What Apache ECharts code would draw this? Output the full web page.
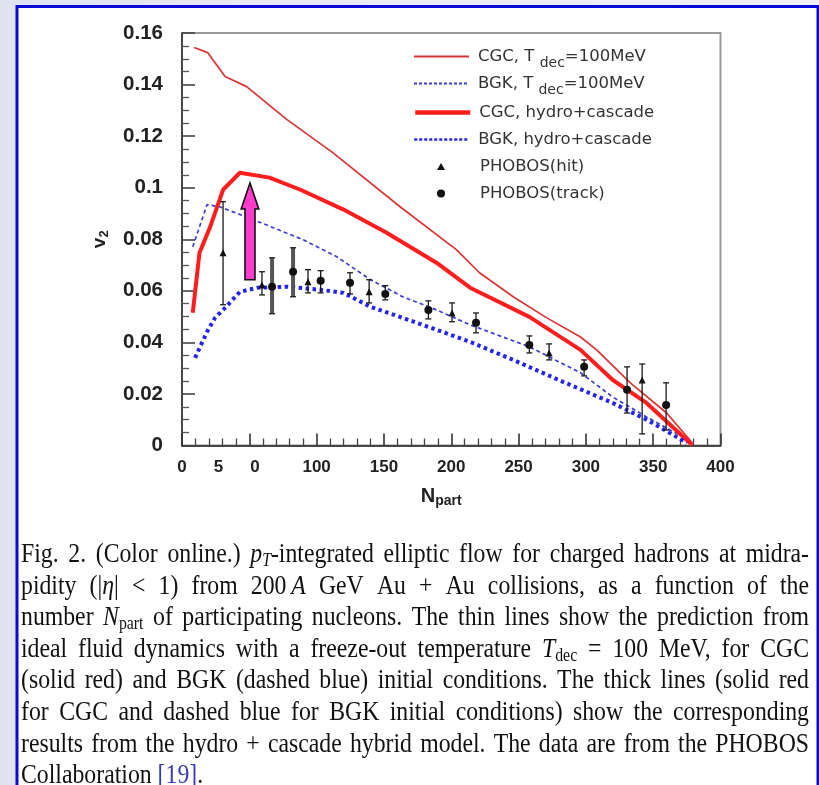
<!DOCTYPE html>
<html>
<head>
<meta charset="utf-8">
<script src="https://cdn.jsdelivr.net/npm/echarts@6/dist/echarts.min.js"></script>
<style>
  html, body { margin: 0; padding: 0; }
  body { background: linear-gradient(90deg, #dfe3f0 0%, #e9ebf4 40%, #f1f1f4 100%); }
  #c { width: 819px; height: 785px; }
</style>
</head>
<body>
<div id="c"></div>
<script>
// ---- ideal hydro curves (T_dec = 100 MeV): [N_part, v2]
const cgcIdeal = [[9,0.1544],[19,0.1524],[32,0.1431],[48,0.1392],[78,0.1264],[112,0.1136],[162,0.0926],[204,0.0759],[221,0.0670],[246,0.0577],[271,0.0495],[296,0.0421],[308,0.0371],[333,0.0243],[360,0.0126],[379,0.001]];
const bgkIdeal = [[8,0.0771],[18.6,0.0934],[28,0.0926],[53,0.0876],[90,0.0798],[115,0.0732],[140,0.0643],[164,0.0577],[189,0.0526],[214,0.0468],[258,0.0383],[296,0.0282],[320,0.0188],[345,0.0111],[380,0.001]];
// ---- hydro + cascade hybrid curves
const cgcHybrid = [[8,0.0515],[13,0.0748],[21,0.0849],[30.5,0.0992],[43,0.1058],[65,0.1039],[88,0.0992],[120,0.0915],[152,0.0825],[189,0.0709],[214,0.0612],[258,0.0499],[296,0.0371],[320,0.0254],[345,0.0165],[379,0.0002]];
const bgkHybrid = [[9.7,0.0340],[18.6,0.0441],[24.5,0.0495],[32,0.0534],[43,0.0596],[56,0.0612],[78,0.0616],[102.5,0.0604],[120,0.0592],[140,0.0538],[164,0.0495],[189,0.0449],[214,0.0402],[246,0.0332],[283,0.0247],[320,0.0165],[345.5,0.0099],[375,0.001]];

// ---- PHOBOS data
const hitN  = [30.5, 59.4, 93.6, 139, 200.6, 272.7, 341.8];
const hitV  = [0.0748, 0.0623, 0.0635, 0.0596, 0.0514, 0.0359, 0.0254];
const hitLo = [0.0546, 0.0584, 0.0592, 0.0553, 0.0480, 0.0332, 0.0045];
const hitHi = [0.0946, 0.0674, 0.0682, 0.0643, 0.0553, 0.0394, 0.0316];

const trackN  = [66.9, 82.5, 103, 124.8, 151, 183, 218.4, 258, 298.7, 330.6, 359.6];
const trackV  = [0.0616, 0.0674, 0.0639, 0.0631, 0.0588, 0.0526, 0.0476, 0.0390, 0.0305, 0.0216, 0.0157];
const trackLo = [0.0511, 0.0577, 0.0592, 0.0588, 0.0565, 0.0491, 0.0437, 0.0359, 0.0270, 0.0126, 0.0060];
const trackHi = [0.0728, 0.0767, 0.0678, 0.0670, 0.0620, 0.0561, 0.0514, 0.0425, 0.0332, 0.0305, 0.0243];
// track points whose band is drawn as a wide grey bar
const trackWideN = [66.9, 82.5];

// ---- highlight arrow: N_part position, v2 from -> v2 to
const arrowN = [50.5];
const arrowFrom = [0.0643];
const arrowTo = [0.1018];

// ---- axis ticks
const xTicks = [0, 50, 100, 150, 200, 250, 300, 350, 400];
const yTicks = [0, 0.02, 0.04, 0.06, 0.08, 0.1, 0.12, 0.14, 0.16];

// ---- series names
const names = ['CGC, Tdec=100MeV', 'BGK, Tdec=100MeV', 'CGC, hydro+cascade', 'BGK, hydro+cascade', 'PHOBOS(hit)', 'PHOBOS(track)'];

// ---- caption (rich-text markup, one entry per printed line)
const captionLines = [
  'Fig. 2. (Color online.) {i|p}{isub|T}-integrated elliptic flow for charged hadrons at midra-',
  'pidity (|{i|η}| < 1) from 200\u2009{i|A} GeV Au + Au collisions, as a function of the',
  'number {i|N}{sub|part} of participating nucleons. The thin lines show the prediction from',
  'ideal fluid dynamics with a freeze-out temperature {i|T}{sub|dec} = 100 MeV, for CGC',
  '(solid red) and BGK (dashed blue) initial conditions. The thick lines (solid red',
  'for CGC and dashed blue for BGK initial conditions) show the corresponding',
  'results from the hydro + cascade hybrid model. The data are from the PHOBOS',
  'Collaboration {link|[19]}.'
];

const chart = echarts.init(document.getElementById('c'), null, { renderer: 'canvas' });

// ---------- caption layout (justified words) ----------
const CAP_FAMILY = 'Liberation Serif';
const CAP_SIZE = 27;
const CAP_SUB = 18;
const CAP_SX = 0.88;
const CAP_LEFT = 21, CAP_RIGHT = 809;
const CAP_TOP = 555, CAP_STEP = 31.6;
const capRich = {
  i:    { fontSize: CAP_SIZE, fontFamily: CAP_FAMILY, fontStyle: 'italic', fill: '#111' },
  sub:  { fontSize: CAP_SUB, fontFamily: CAP_FAMILY, fontStyle: 'normal', fill: '#111', padding: [12, 0, 0, 0] },
  isub: { fontSize: CAP_SUB, fontFamily: CAP_FAMILY, fontStyle: 'italic', fill: '#111', padding: [12, 0, 0, 0] },
  link: { fontSize: CAP_SIZE, fontFamily: CAP_FAMILY, fontStyle: 'normal', fill: '#3a3ab8' }
};
const ctx = document.createElement('canvas').getContext('2d');
function segFont(key) {
  const s = capRich[key] || { fontSize: CAP_SIZE, fontStyle: 'normal' };
  return s.fontStyle + ' normal ' + s.fontSize + 'px ' + CAP_FAMILY;
}
function measureWord(word) {
  const re = /\{(\w+)\|([^}]*)\}|([^{]+)/g;
  let m, w = 0;
  while ((m = re.exec(word))) {
    ctx.font = segFont(m[1] ? m[1] : '');
    w += ctx.measureText(m[1] ? m[2] : m[3]).width;
  }
  return w;
}
const capChildren = [];
const usableW = (CAP_RIGHT - CAP_LEFT) / CAP_SX;
captionLines.forEach((line, k) => {
  const words = line.split(' ');
  const widths = words.map(measureWord);
  const total = widths.reduce((a, b) => a + b, 0);
  const justify = k < captionLines.length - 1;
  ctx.font = segFont('');
  const gap = justify ? (usableW - total) / (words.length - 1) : ctx.measureText(' ').width;
  let x = 0;
  words.forEach((w, j) => {
    capChildren.push({
      type: 'text', x: x, y: CAP_TOP + k * CAP_STEP,
      style: {
        text: w, fontSize: CAP_SIZE, fontFamily: CAP_FAMILY, fontStyle: 'normal',
        fill: '#111', verticalAlign: 'middle', align: 'left', rich: capRich
      }
    });
    x += widths[j] + gap;
  });
});

// ---------- custom renderers ----------
function makeErrBar(color, width, cap) {
  return function (params, api) {
    const x = api.value(0);
    const top = api.coord([x, api.value(2)]);
    const bot = api.coord([x, api.value(1)]);
    const st = { stroke: color, lineWidth: width };
    const cs = { stroke: '#1a1a1a', lineWidth: 1.3 };
    return {
      type: 'group',
      children: [
        { type: 'line', shape: { x1: top[0], y1: top[1], x2: bot[0], y2: bot[1] }, style: st },
        { type: 'line', shape: { x1: top[0] - cap, y1: top[1], x2: top[0] + cap, y2: top[1] }, style: cs },
        { type: 'line', shape: { x1: bot[0] - cap, y1: bot[1], x2: bot[0] + cap, y2: bot[1] }, style: cs }
      ]
    };
  };
}
function arrowShape(params, api) {
  const b = api.coord([api.value(0), api.value(1)]);
  const t = api.coord([api.value(0), api.value(2)]);
  const sw = 5, hw = 8.8, hl = 26, cx = b[0];
  return {
    type: 'polygon',
    shape: { points: [[cx - sw, b[1]], [cx - sw, t[1] + hl], [cx - hw, t[1] + hl], [cx, t[1]],
                      [cx + hw, t[1] + hl], [cx + sw, t[1] + hl], [cx + sw, b[1]]] },
    style: { fill: '#ff3ccd', stroke: '#111', lineWidth: 1.6 }
  };
}

// ---------- legend (one component per row) ----------
const LEG_FONT = 'DejaVu Sans';
const legendRich = {
  sub: { fontSize: 14, fontFamily: LEG_FONT, color: '#333', padding: [14, 0, 0, 0] }
};
function legendFmt(name) {
  return name.replace('Tdec', 'T {sub|dec}');
}
function legendRow(name, top, opts) {
  return Object.assign({
    data: [name], orient: 'vertical', left: 408, top: top,
    itemWidth: 55, itemHeight: 14, selectedMode: false,
    formatter: legendFmt,
    itemStyle: { opacity: 0, borderWidth: 0 },
    textStyle: { fontSize: 16.5, color: '#333', fontFamily: LEG_FONT, rich: legendRich, padding: [0, 0, 0, 4] }
  }, opts || {});
}
const scatterLegendText = { fontSize: 16.5, color: '#333', fontFamily: LEG_FONT, padding: [0, 0, 0, 30] };

const option = {
  animation: false,
  backgroundColor: 'transparent',
  textStyle: { fontFamily: 'Liberation Sans' },
  grid: {
    left: 182, top: 33, width: 538.5, height: 412.5,
    show: true, borderColor: '#9a9a9a', borderWidth: 2,
    outerBoundsMode: 'none'
  },
  xAxis: {
    type: 'value', min: xTicks[0], max: xTicks[xTicks.length - 1], interval: xTicks[1] - xTicks[0],
    axisLine: { show: true, lineStyle: { color: '#222', width: 1.6 } },
    axisTick: { show: true, inside: true, length: 12, lineStyle: { color: '#333', width: 1.6 } },
    minorTick: { show: true, splitNumber: 5, length: 7, lineStyle: { color: '#444', width: 1.3 } },
    splitLine: { show: false },
    axisLabel: {
      margin: 13, fontSize: 17, fontWeight: 'bold', color: '#222',
      formatter: v => (v === 50 ? '{f|5}{h|0}' : String(v)),
      rich: {
        f: { fontSize: 17, fontWeight: 'bold', color: '#222', padding: [0, 27, 0, 0] },
        h: { fontSize: 17, fontWeight: 'bold', color: '#222', padding: [0, 25, 0, 0] }
      }
    },
    name: '{n|N}{s|part}', nameLocation: 'middle', nameGap: 38,
    nameTextStyle: {
      padding: [0, 20, 0, 0],
      rich: {
        n: { fontSize: 20, fontWeight: 'bold', color: '#222' },
        s: { fontSize: 14, fontWeight: 'bold', color: '#222', padding: [11, 0, 0, 0] }
      }
    }
  },
  yAxis: {
    type: 'value', min: yTicks[0], max: yTicks[yTicks.length - 1], interval: yTicks[1] - yTicks[0],
    axisLine: { show: true, lineStyle: { color: '#333', width: 1.6 } },
    axisTick: { show: true, inside: true, length: 13, lineStyle: { color: '#444', width: 1.6 } },
    minorTick: { show: true, splitNumber: 4, length: 7, lineStyle: { color: '#555', width: 1.3 } },
    splitLine: { show: false },
    axisLabel: {
      margin: 19, fontSize: 20.5, fontWeight: 'bold', color: '#222',
      formatter: v => (v === 0 ? '0' : String(parseFloat(v.toFixed(2))))
    },
    name: '{v|v}{s|2}', nameLocation: 'middle', nameRotate: 90, nameGap: 71,
    nameTextStyle: {
      rich: {
        v: { fontSize: 19, fontWeight: 'bold', color: '#222' },
        s: { fontSize: 13, fontWeight: 'bold', color: '#222', padding: [9, 0, 0, 0] }
      }
    }
  },
  legend: [
    legendRow(names[0], 43, { lineStyle: { width: 2 } }),
    legendRow(names[1], 70, { lineStyle: { width: 2, type: [3, 2] } }),
    legendRow(names[2], 99, { lineStyle: { width: 4.5 } }),
    legendRow(names[3], 126, { lineStyle: { width: 2.5, type: [3, 2] } }),
    legendRow(names[4], 153, { left: 432, itemWidth: 8, itemHeight: 7, itemStyle: {}, textStyle: scatterLegendText }),
    legendRow(names[5], 180, { left: 432, itemWidth: 8, itemHeight: 8, itemStyle: {}, textStyle: scatterLegendText })
  ],
  graphic: [
    {
      type: 'rect', z: -1, silent: true,
      shape: { x: 17, y: 6.5, width: 801, height: 820 },
      style: { fill: '#ffffff', stroke: '#0a0ad8', lineWidth: 3 }
    },
    { type: 'group', x: CAP_LEFT, y: 0, scaleX: CAP_SX, children: capChildren }
  ],
  series: [
    { name: names[0], type: 'line', data: cgcIdeal, symbol: 'none', z: 3,
      lineStyle: { color: '#d93434', width: 1.7 }, itemStyle: { color: '#d93434' } },
    { name: names[1], type: 'line', data: bgkIdeal, symbol: 'none', z: 3,
      lineStyle: { color: '#3c3cd2', width: 1.7, type: [4, 3] }, itemStyle: { color: '#3c3cd2' } },
    { name: names[2], type: 'line', data: cgcHybrid, symbol: 'none', z: 3,
      lineStyle: { color: '#ff1e1e', width: 4 }, itemStyle: { color: '#ff1e1e' } },
    { name: names[3], type: 'line', data: bgkHybrid, symbol: 'none', z: 3,
      lineStyle: { color: '#2424f2', width: 4, type: [3.5, 3.5] }, itemStyle: { color: '#2424f2' } },
    { name: 'hitErr', type: 'custom', silent: true, z: 4, renderItem: makeErrBar('#1a1a1a', 1.3, 3),
      encode: { x: 0, y: [1, 2] },
      data: hitN.map((n, i) => [n, hitLo[i], hitHi[i]]) },
    { name: 'trackErr', type: 'custom', silent: true, z: 4, renderItem: makeErrBar('#1a1a1a', 1.3, 3),
      encode: { x: 0, y: [1, 2] },
      data: trackN.map((n, i) => [n, trackLo[i], trackHi[i]]).filter(d => trackWideN.indexOf(d[0]) < 0) },
    { name: 'trackErrWide', type: 'custom', silent: true, z: 4, renderItem: makeErrBar('#555', 4, 3),
      encode: { x: 0, y: [1, 2] },
      data: trackN.map((n, i) => [n, trackLo[i], trackHi[i]]).filter(d => trackWideN.indexOf(d[0]) >= 0) },
    { name: names[4], type: 'scatter', symbol: 'triangle', symbolSize: 7, z: 5,
      itemStyle: { color: '#111', opacity: 1 },
      data: hitN.map((n, i) => [n, hitV[i]]) },
    { name: names[5], type: 'scatter', symbol: 'circle', symbolSize: 8, z: 5,
      itemStyle: { color: '#111', opacity: 1 },
      data: trackN.map((n, i) => [n, trackV[i]]) },
    { name: 'arrow', type: 'custom', silent: true, z: 10, renderItem: arrowShape, encode: { x: 0, y: [1, 2] },
      data: arrowN.map((n, i) => [n, arrowFrom[i], arrowTo[i]]) }
  ]
};

chart.setOption(option);
</script>
</body>
</html>
